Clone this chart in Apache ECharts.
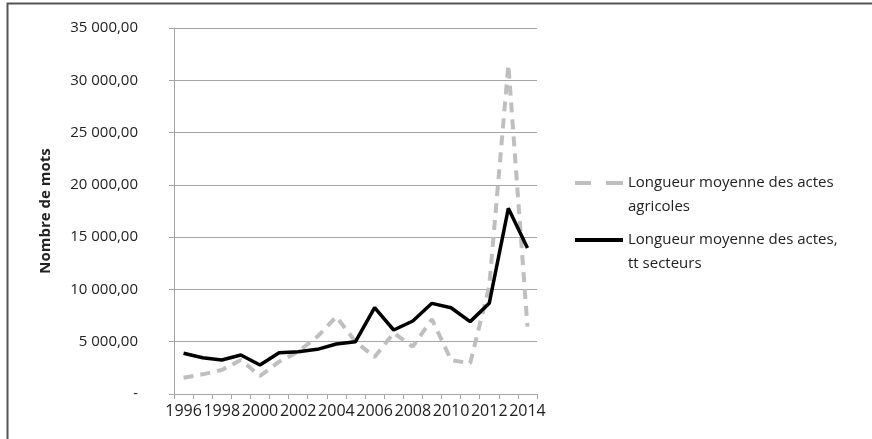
<!DOCTYPE html>
<html>
<head>
<meta charset="utf-8">
<script src="https://cdn.jsdelivr.net/npm/echarts@6/dist/echarts.min.js"></script>
<style>
  html, body { margin: 0; padding: 0; background: #ffffff; }
  #chart { width: 872px; height: 439px; }
</style>
</head>
<body>
<div id="chart"></div>
<script>
// Years on the category axis
const years = ['1996','1997','1998','1999','2000','2001','2002','2003','2004','2005',
               '2006','2007','2008','2009','2010','2011','2012','2013','2014'];

// Average length (words) of agricultural acts
const agricoles = [1560, 1880, 2300, 3250, 1720, 3090, 4050, 5480, 7390, 5000,
                   3540, 5850, 4520, 7150, 3250, 2930, 10300, 31500, 6440];

// Average length (words) of acts, all sectors
const tousSecteurs = [3890, 3470, 3250, 3730, 2770, 3950, 4050, 4270, 4780, 5000,
                      8250, 6120, 6980, 8670, 8250, 6920, 8670, 17760, 13960];

const seriesNames = [
  'Longueur moyenne des actes\nagricoles',
  'Longueur moyenne des actes,\ntt secteurs'
];

const FONT = '"Open Sans", "DejaVu Sans", sans-serif';

function frNumber(v) {
  if (v === 0) return '-';
  return String(v).replace(/\B(?=(\d{3})+(?!\d))/g, ' ') + ',00';
}

const chart = echarts.init(document.getElementById('chart'));

// Two-line legend labels: a blank leading line keeps the first line level with the icon
function legendFor(name, top, icon) {
  return {
    data: [name],
    left: 570, top: top,
    orient: 'vertical',
    icon: icon,
    itemWidth: 48, itemHeight: 4, itemGap: 4,
    formatter: n => '\u00a0\n' + n,
    textStyle: { fontFamily: FONT, fontSize: 15, color: '#222', lineHeight: 24 }
  };
}

chart.setOption({
  animation: false,
  backgroundColor: '#ffffff',
  graphic: [{
    type: 'rect',
    shape: { x: 7.5, y: 3.5, width: 900, height: 460 },
    style: { fill: 'none', stroke: '#555', lineWidth: 2 },
    silent: true
  }],
  grid: { left: 174, right: 335, top: 28, bottom: 45, containLabel: false },
  legend: [
    legendFor(seriesNames[0], 142, 'path://M0,0H16V4H0Z M31,0H48V4H31Z'),
    legendFor(seriesNames[1], 199, 'rect')
  ],
  xAxis: {
    type: 'category',
    data: years,
    boundaryGap: true,
    axisLine: { lineStyle: { color: '#a6a6a6', width: 1 } },
    axisTick: { show: true, interval: 0, length: 5, lineStyle: { color: '#a6a6a6' } },
    axisLabel: {
      interval: 1,
      margin: 9,
      fontFamily: FONT,
      fontSize: 16,
      color: '#222'
    }
  },
  yAxis: {
    type: 'value',
    min: 0, max: 35000, interval: 5000,
    name: 'Nombre de mots',
    nameLocation: 'middle',
    nameGap: 121,
    nameRotate: 90,
    nameTextStyle: { fontFamily: FONT, fontSize: 15, fontWeight: 'bold', color: '#222' },
    axisLine: { show: true, lineStyle: { color: '#a6a6a6', width: 1 } },
    axisTick: { show: true, length: 5, inside: false, lineStyle: { color: '#a6a6a6' } },
    splitLine: { show: true, lineStyle: { color: '#a6a6a6', width: 1 } },
    axisLabel: {
      margin: 36,
      fontFamily: FONT,
      fontSize: 15,
      color: '#222',
      formatter: frNumber
    }
  },
  series: [{
    name: seriesNames[0],
    type: 'line',
    data: agricoles,
    symbol: 'none',
    z: 2,
    lineStyle: { color: '#bfbfbf', width: 4, type: [10, 7], cap: 'butt' },
    itemStyle: { color: '#bfbfbf' }
  }, {
    name: seriesNames[1],
    type: 'line',
    data: tousSecteurs,
    symbol: 'none',
    z: 3,
    lineStyle: { color: '#000000', width: 3.5 },
    itemStyle: { color: '#000000' }
  }]
});
</script>
</body>
</html>
